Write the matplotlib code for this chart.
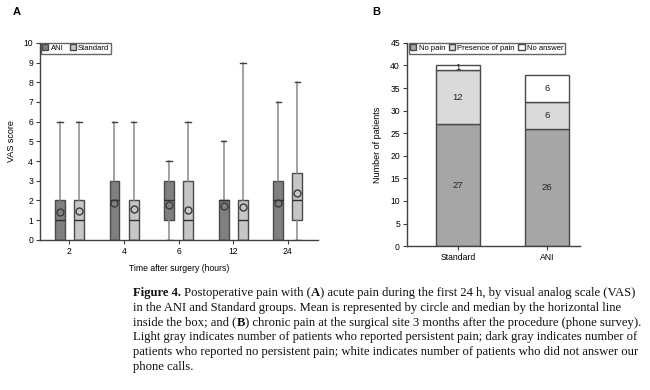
import matplotlib.pyplot as plt
from matplotlib.patches import Patch

# panel A: VAS score box plots
times = ['2', '4', '6', '12', '24']
ani_min = [0, 0, 0, 0, 0]
ani_q1 = [0, 0, 1, 0, 0]
ani_med = [1, 2, 2, 2, 2]
ani_q3 = [2, 3, 3, 2, 3]
ani_max = [6, 6, 4, 5, 7]
ani_mean = [1.4, 1.85, 1.78, 1.7, 1.85]

std_min = [0, 0, 0, 0, 0]
std_q1 = [0, 0, 0, 0, 1]
std_med = [1, 1, 1, 1, 2]
std_q3 = [2, 2, 3, 2, 3.4]
std_max = [6, 6, 6, 9, 8]
std_mean = [1.45, 1.55, 1.5, 1.65, 2.4]

# panel B: chronic pain stacked bars
groups = ['Standard', 'ANI']
no_pain = [27, 26]
pain = [12, 6]
no_answer = [1, 6]

plt.rcParams['font.family'] = ['Liberation Sans', 'DejaVu Sans']
EDGE = '#4a4a4a'
DARK = '#808080'
LIGHT = '#c6c6c6'


def stats(mn, q1, med, q3, mx, mean):
    return [dict(whislo=a, q1=b, med=c, q3=d, whishi=e, mean=f, fliers=[])
            for a, b, c, d, e, f in zip(mn, q1, med, q3, mx, mean)]


fig = plt.figure(figsize=(6.5, 3.9), dpi=100)

# ---- A ----
ax = fig.add_axes([0.0615, 0.385, 0.4275, 0.505])
pos = list(range(len(times)))
for data, off, col in [(stats(ani_min, ani_q1, ani_med, ani_q3, ani_max, ani_mean), -0.175, DARK),
                       (stats(std_min, std_q1, std_med, std_q3, std_max, std_mean), 0.175, LIGHT)]:
    ax.bxp(data, positions=[p + off for p in pos], widths=0.18, patch_artist=True,
           showmeans=True, capwidths=0.1,
           boxprops=dict(facecolor=col, edgecolor=EDGE, linewidth=1),
           medianprops=dict(color='#303030', linewidth=1),
           whiskerprops=dict(color='#8a8a8a', linewidth=1.1),
           capprops=dict(color='#404040', linewidth=1),
           meanprops=dict(marker='o', markerfacecolor='none', markeredgecolor='#3a3a3a',
                          markersize=5, markeredgewidth=1))
ax.set_xlim(-0.54, 4.55)
ax.set_ylim(0, 10)
ax.set_yticks(range(11))
ax.set_xticks(pos)
ax.set_xticklabels(times)
ax.set_xlabel('Time after surgery (hours)', fontsize=6.2, labelpad=6)
ax.set_ylabel('VAS score', fontsize=6.5, labelpad=5)
ax.legend(handles=[Patch(facecolor=DARK, edgecolor=EDGE, label='ANI'),
                   Patch(facecolor=LIGHT, edgecolor=EDGE, label='Standard')],
          ncol=2, loc='upper left', bbox_to_anchor=(0.003, 1.0), fontsize=5.5,
          frameon=True, fancybox=False, edgecolor='#404040', borderpad=0.2,
          handlelength=0.8, handleheight=0.8, handletextpad=0.3, columnspacing=0.8,
          borderaxespad=0)

# ---- B ----
bx = fig.add_axes([0.626, 0.369, 0.266, 0.521])
bpos = list(range(len(groups)))
b1 = bx.bar(bpos, no_pain, width=0.494, color='#a6a6a6', edgecolor=EDGE, linewidth=1)
b2 = bx.bar(bpos, pain, width=0.494, bottom=no_pain, color='#dadada', edgecolor=EDGE, linewidth=1)
bot = [a + b for a, b in zip(no_pain, pain)]
b3 = bx.bar(bpos, no_answer, width=0.494, bottom=bot, color='white', edgecolor=EDGE, linewidth=1)
for bars in (b1, b2, b3):
    bx.bar_label(bars, label_type='center', fontsize=6.8, color='#222222')
bx.set_xlim(-0.573, 1.37)
bx.set_ylim(0, 45)
bx.set_yticks(range(0, 46, 5))
bx.set_xticks(bpos)
bx.set_xticklabels(groups)
bx.set_ylabel('Number of patients', fontsize=6.5, labelpad=6)
bx.legend(handles=[b1, b2, b3], labels=['No pain', 'Presence of pain', 'No answer'],
          ncol=3, loc='upper left', bbox_to_anchor=(0.01, 1.0), fontsize=5.5,
          frameon=True, fancybox=False, edgecolor='#404040', borderpad=0.2,
          handlelength=0.8, handleheight=0.8, handletextpad=0.3, columnspacing=0.5,
          borderaxespad=0)

for a in (ax, bx):
    for s in ('top', 'right'):
        a.spines[s].set_visible(False)
    for s in ('left', 'bottom'):
        a.spines[s].set_color('#404040')
        a.spines[s].set_linewidth(1)
    a.tick_params(labelsize=6.2, length=3, width=0.8, color='#404040', pad=2)

fig.text(13 / 650, 1 - 12 / 390, 'A', fontsize=8, fontweight='bold', va='center')
fig.text(372 / 650, 1 - 12 / 390, 'B', fontsize=8, fontweight='bold', va='center')

# ---- caption ----
caption = [
    [('Figure 4.', True), (' Postoperative pain with (', False), ('A', True),
     (') acute pain during the first 24 h, by visual analog scale (VAS)', False)],
    [('in the ANI and Standard groups. Mean is represented by circle and median by the horizontal line', False)],
    [('inside the box; and (', False), ('B', True),
     (') chronic pain at the surgical site 3 months after the procedure (phone survey).', False)],
    [('Light gray indicates number of patients who reported persistent pain; dark gray indicates number of', False)],
    [('patients who reported no persistent pain; white indicates number of patients who did not answer our', False)],
    [('phone calls.', False)],
]
fig.canvas.draw()
renderer = fig.canvas.get_renderer()
y0 = 293
for i, line in enumerate(caption):
    x = 133
    for txt, bold in line:
        t = fig.text(x / 650, 1 - (y0 + i * 14.8) / 390, txt, fontsize=9.1,
                     family=['Liberation Serif', 'DejaVu Serif'],
                     fontweight='bold' if bold else 'normal', va='center', color='#111111')
        x += t.get_window_extent(renderer).width

fig.savefig('out.png', dpi=100)
